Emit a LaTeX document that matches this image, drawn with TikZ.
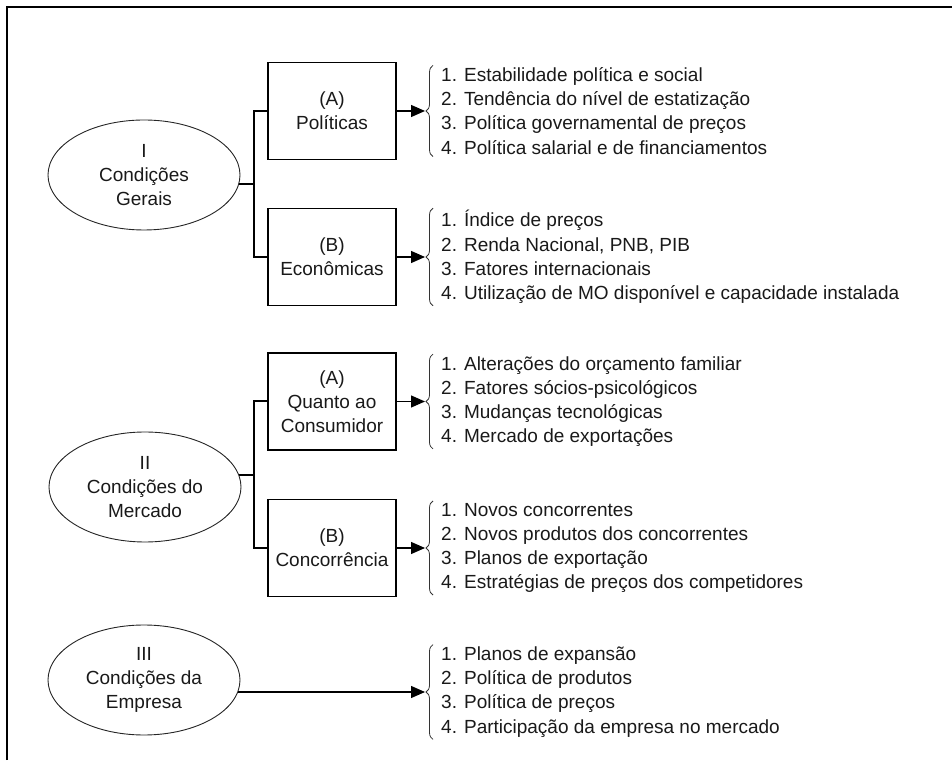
\documentclass[tikz,border=0pt]{standalone}
\usepackage{fontspec}
\setmainfont{Liberation Sans}
\usetikzlibrary{shapes.geometric, arrows.meta, decorations.pathreplacing}

\tikzset{
  cond/.style={ellipse, draw=black!85, line width=0.9pt, minimum width=192pt, minimum height=110pt, inner sep=0pt, align=center},
  grupo/.style={rectangle, draw, line width=1.3pt, minimum width=128pt, minimum height=97pt, inner sep=0pt, align=center},
  lista/.style={anchor=west, align=left, inner xsep=0pt, inner ysep=2pt},
  liga/.style={line width=2pt},
  seta/.style={line width=1.3pt, -{Triangle[length=14pt, width=12pt]}, shorten >=16pt},
  chave/.style={decorate, decoration={brace, amplitude=7pt}, line width=0.8pt, draw=black!80},
}

\begin{document}
\begin{tikzpicture}[x=1pt, y=1pt, font=\fontsize{19}{24.2}\selectfont, text=black!90]
        \useasboundingbox (0, 0) rectangle (952, 760);
        \draw[line width=2.2pt] (7, 0) -- (7, 753) -- (952, 753);

        % I
        \node[cond] (ci) at (144, 585) {I\\Condições\\Gerais};
        \node[grupo] (pa) at (332, 649) {(A)\\Políticas};
        \node[grupo] (pb) at (332, 503) {(B)\\Econômicas};
        \coordinate (jI) at (254, 576);

        \node[lista] (la) at (441, 649) {1. Estabilidade política e social\\2. Tendência do nível de estatização\\3. Política governamental de preços\\4. Política salarial e de financiamentos};
        \node[lista] (lb) at (441, 503) {1. Índice de preços\\2. Renda Nacional, PNB, PIB\\3. Fatores internacionais\\4. Utilização de MO disponível e capacidade instalada};

        \draw[liga] (jI -| ci.-5) -- (jI);
        \draw[liga] (pa.west) -| (jI) |- (pb.west);
        \draw[seta] (pa) -- (la);
        \draw[seta] (pb) -- (lb);
        \draw[chave] ([xshift=-8pt]la.south west) -- ([xshift=-8pt]la.north west);
        \draw[chave] ([xshift=-8pt]lb.south west) -- ([xshift=-8pt]lb.north west);

        % II
        \node[cond] (cii) at (145, 273) {II\\Condições do\\Mercado};
        \node[grupo] (qa) at (332, 358.5) {(A)\\Quanto ao\\Consumidor};
        \node[grupo] (qb) at (332, 212) {(B)\\Concorrência};
        \coordinate (jII) at (254, 285);

        \node[lista] (lc) at (441, 358.5) {1. Alterações do orçamento familiar\\2. Fatores sócios-psicológicos\\3. Mudanças tecnológicas\\4. Mercado de exportações};
        \node[lista] (ld) at (441, 212) {1. Novos concorrentes\\2. Novos produtos dos concorrentes\\3. Planos de exportação\\4. Estratégias de preços dos competidores};

        \draw[liga] (jII -| cii.7) -- (jII);
        \draw[liga] (qa.west) -| (jII) |- (qb.west);
        \draw[seta] (qa) -- (lc);
        \draw[seta] (qb) -- (ld);
        \draw[chave] ([xshift=-8pt]lc.south west) -- ([xshift=-8pt]lc.north west);
        \draw[chave] ([xshift=-8pt]ld.south west) -- ([xshift=-8pt]ld.north west);

        % III
        \node[cond] (ciii) at (144, 80) {III\\Condições da\\Empresa};
        \node[lista] (le) at (441, 68) {1. Planos de expansão\\2. Política de produtos\\3. Política de preços\\4. Participação da empresa no mercado};

        \draw[seta] (le.west -| ciii.-7) -- (le.west);
        \draw[chave] ([xshift=-8pt]le.south west) -- ([xshift=-8pt]le.north west);
\end{tikzpicture}
\end{document}
